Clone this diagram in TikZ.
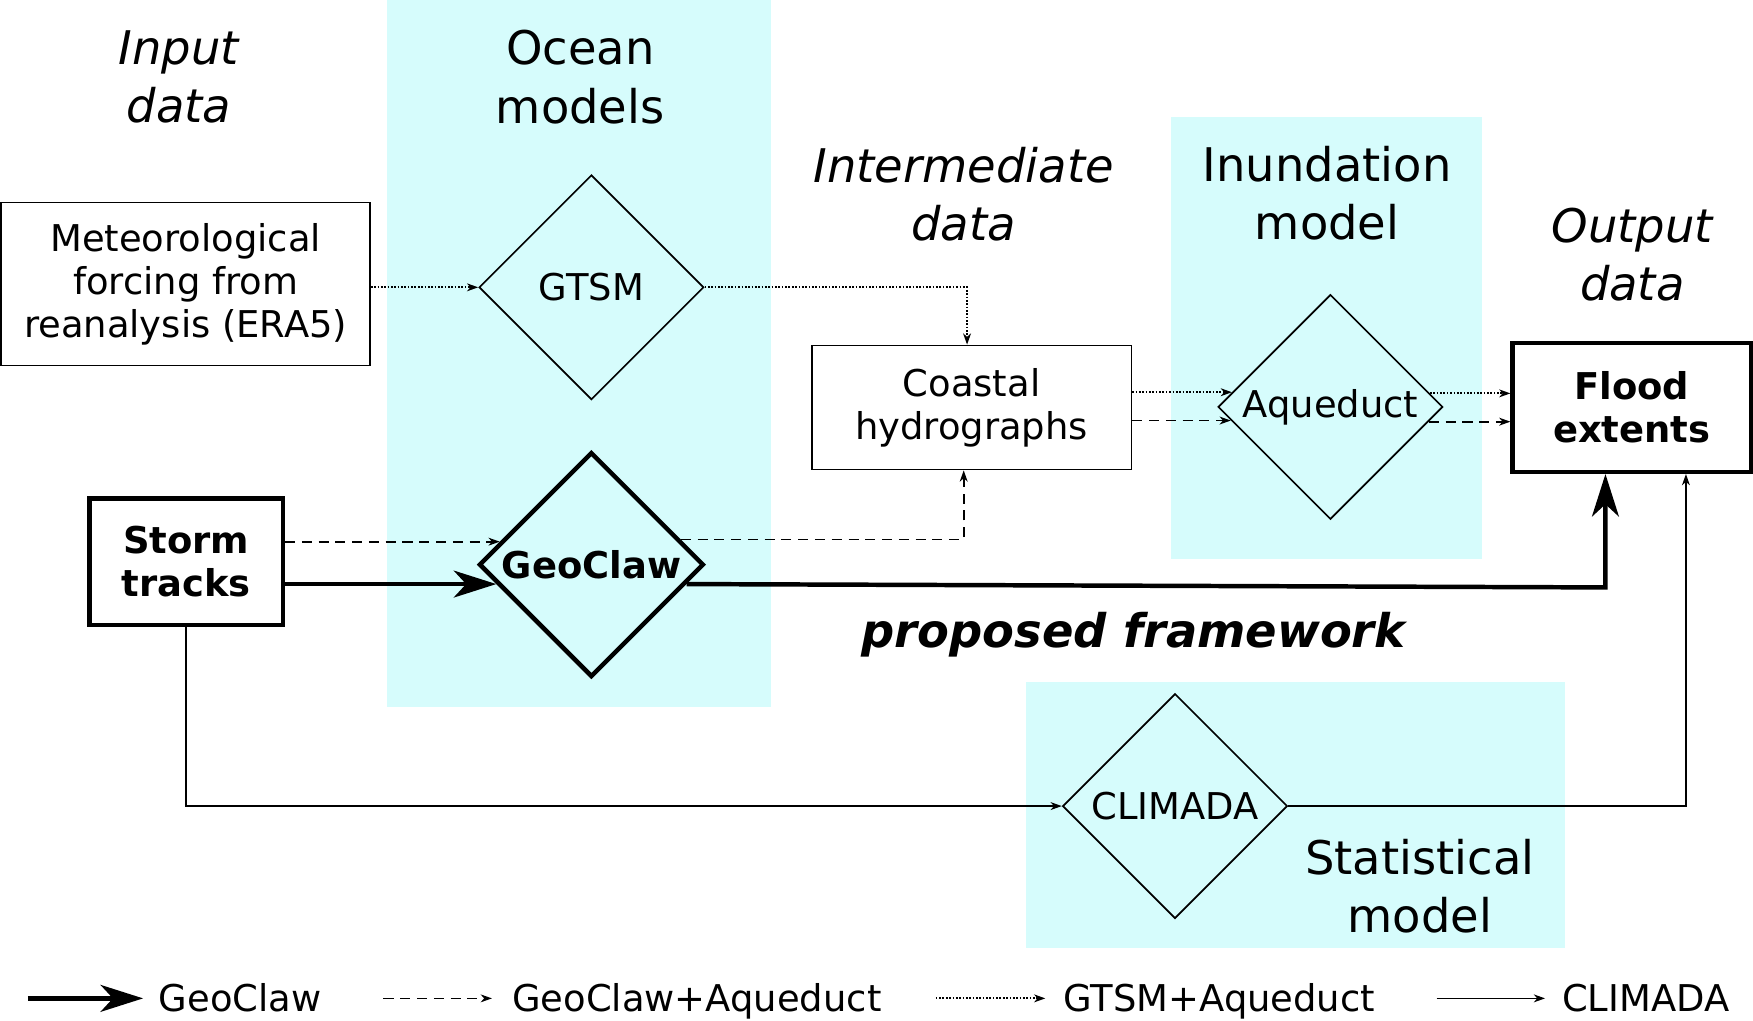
\documentclass[tikz,border=0pt]{standalone}
\usepackage{fontspec}
\setmainfont{DejaVu Sans}
\usetikzlibrary{shapes.geometric,arrows.meta,calc}
\definecolor{band}{RGB}{214,252,252}
\tikzset{
  bodyfont/.style={font=\fontsize{33}{38.5}\selectfont},
  titlefont/.style={font=\fontsize{41.5}{52}\selectfont, align=center, inner sep=0pt},
  ititle/.style={titlefont, font=\fontsize{41.5}{52}\selectfont\itshape},
  thinbox/.style={draw, line width=1.5pt, bodyfont, align=center, inner sep=0pt},
  thickbox/.style={draw, line width=4pt, bodyfont, align=center, inner sep=0pt, font=\fontsize{33}{38.5}\selectfont\bfseries},
  thindia/.style={draw, diamond, line width=1.5pt, bodyfont, inner sep=0pt, minimum width=201pt, minimum height=201pt, fill=band},
  thickdia/.style={draw, diamond, line width=4pt, inner sep=0pt, minimum width=201pt, minimum height=201pt, fill=band, font=\fontsize{33}{38.5}\selectfont\bfseries},
  smallhead/.style={-{Stealth[length=10pt,width=7pt,inset=3pt]}},
  bighead/.style={-{Stealth[length=38pt,width=24pt,inset=11pt]}},
  geoline/.style={line width=4pt, bighead},
  gaqline/.style={line width=1.5pt, dash pattern=on 9pt off 6pt, smallhead},
  gtsmline/.style={line width=1.6pt, dash pattern=on 1.5pt off 1.5pt, smallhead},
  climline/.style={line width=1.5pt, smallhead},
  legtext/.style={bodyfont, anchor=base west, inner sep=0pt},
}
\begin{document}
\begin{tikzpicture}[x=1pt, y=-1pt]
\useasboundingbox (0,0) rectangle (1568,913);
% bands
\fill[band] (346,0) rectangle (690,632);
\fill[band] (1047,105) rectangle (1326,500);
\fill[band] (918,610) rectangle (1400,848);
% titles
\node[ititle] (tin) at (160,69) {Input\\data};
\node[titlefont] (toc) at (519,69) {Ocean\\models};
\node[ititle] (tint) at (862,174) {Intermediate\\data};
\node[titlefont] (tinu) at (1187,173) {Inundation\\model};
\node[ititle] (tout) at (1460,228) {Output\\data};
\node[titlefont] (tstat) at (1270,793) {Statistical\\model};
\node[titlefont, font=\fontsize{41.5}{52}\selectfont\bfseries\itshape] (tprop) at (1014,568) {proposed framework};
% nodes
\node[thinbox, minimum width=330pt, minimum height=146pt] (met) at (166,254) {Meteorological\\forcing from\\reanalysis (ERA5)};
\node[thindia] (gtsm) at (529,257) {GTSM};
\node[thinbox, minimum width=286pt, minimum height=111pt] (coast) at (869,364.5) {Coastal\\hydrographs};
\node[thindia] (aq) at (1190,364) {Aqueduct};
\node[thickbox, minimum width=213pt, minimum height=115pt] (flood) at (1459.5,364.5) {Flood\\extents};
\node[thickbox, minimum width=173pt, minimum height=113pt] (storm) at (166.5,502.5) {Storm\\tracks};
\node[thickdia] (geo) at (529,505) {GeoClaw};
\node[thindia] (clim) at (1051,721) {CLIMADA};
% helper coordinates on diamond edges
\coordinate (g1) at ($(geo.west)!0.2!(geo.north)$);
\coordinate (g2) at ($(geo.west)!0.17!(geo.south)$);
\coordinate (g3) at ($(geo.east)!0.22!(geo.north)$);
\coordinate (g4) at ($(geo.east)!0.17!(geo.south)$);
\coordinate (a1) at ($(aq.west)!0.13!(aq.north)$);
\coordinate (a2) at ($(aq.west)!0.12!(aq.south)$);
\coordinate (a3) at ($(aq.east)!0.12!(aq.north)$);
\coordinate (a4) at ($(aq.east)!0.13!(aq.south)$);
\coordinate (ctop) at ([xshift=-4pt]coast.north);
\coordinate (cbot) at ([xshift=-7pt]coast.south);
\coordinate (fgeo) at ([xshift=-23.5pt]flood.south);
\coordinate (fclim) at ([xshift=48.5pt]flood.south);
% connectors
\draw[gtsmline] (met.east |- gtsm.west) -- (gtsm.west);
\draw[gtsmline] (gtsm.east) -- (gtsm.east -| ctop) -- (ctop);
\draw[gaqline] (storm.east |- g1) -- (g1);
\draw[gaqline] (g3) -- (g3 -| cbot) -- (cbot);
\draw[geoline] (storm.east |- g2) -- (g2);
\draw[geoline] (g4) -- ($(g4 -| fgeo)+(0,3)$) -- (fgeo);
\draw[gtsmline] (coast.east |- a1) -- (a1);
\draw[gaqline] (coast.east |- a2) -- (a2);
\draw[gtsmline] (a3) -- (a3 -| flood.west);
\draw[gaqline] (a4) -- (a4 -| flood.west);
\draw[climline] (storm.south) |- (clim.west);
\draw[climline] (clim.east) -| (fclim);
% legend
\coordinate (l1a) at (25,893); \coordinate (l1b) at (128,893);
\coordinate (l2a) at (343,893); \coordinate (l2b) at (440,893);
\coordinate (l3a) at (837,893); \coordinate (l3b) at (935,893);
\coordinate (l4a) at (1285,893); \coordinate (l4b) at (1382,893);
\draw[geoline] (l1a) -- (l1b);
\draw[gaqline] (l2a) -- (l2b);
\draw[gtsmline] (l3a) -- (l3b);
\draw[climline] (l4a) -- (l4b);
\node[legtext] (lt1) at (142,905) {GeoClaw};
\node[legtext] (lt2) at (458,905) {GeoClaw+Aqueduct};
\node[legtext] (lt3) at (951,905) {GTSM+Aqueduct};
\node[legtext] (lt4) at (1397,905) {CLIMADA};
\end{tikzpicture}
\end{document}
